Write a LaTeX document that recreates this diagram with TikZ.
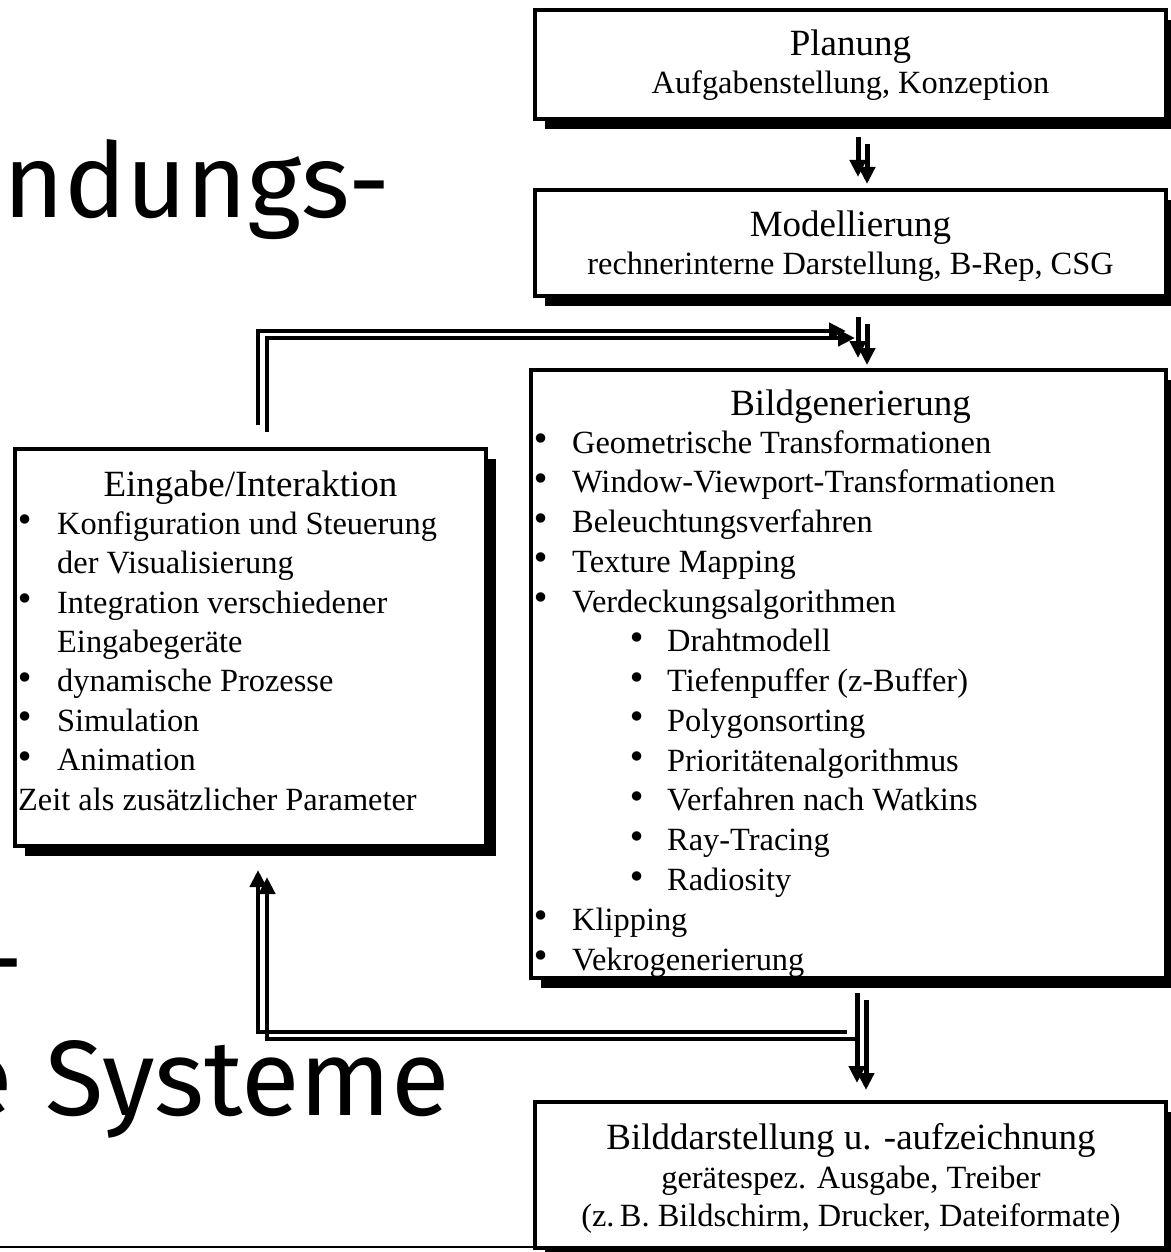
\documentclass[tikz,border=0pt]{standalone}
\usepackage{fontspec}
\setmainfont{Liberation Serif}
\newfontfamily\bigsans{Fira Sans}
\newfontfamily\bulletfont{DejaVu Sans}
\usetikzlibrary{arrows.meta,shadows}

\newcommand\bodysize{\fontsize{32.4}{40}\selectfont}
\newcommand\titlesize{\fontsize{37}{44}\selectfont}
% bullet followed by a fixed indent
\newcommand\itm[1][41pt]{\makebox[#1][l]{\raisebox{2.5pt}{\bulletfont •}}}

\begin{document}
\begin{tikzpicture}[x=1pt,y=-1pt,
  box/.style={draw, line width=4.5pt, fill=white, rectangle, inner sep=0pt, outer sep=0pt,
    drop shadow={shadow xshift=10pt, shadow yshift=-10pt, opacity=1, fill=black}},
  ttl/.style={anchor=base, inner sep=0pt, font=\titlesize},
  sub/.style={anchor=base, inner sep=0pt, font=\bodysize},
  li/.style={anchor=base west, inner sep=0pt, font=\bodysize},
  bigtxt/.style={inner sep=0pt, font=\bigsans\fontsize{#1}{120}\selectfont},
  arr/.style={line width=5pt, -{Triangle[length=17pt,width=16pt]}},
  loop/.style={line width=4.5pt, -{Triangle[length=17pt,width=16pt]}},
  shade/.style={transform canvas={xshift=9pt,yshift=-7pt}}
]
\useasboundingbox (0,0) rectangle (1170,1252);

% slide title fragments behind the diagram
\node[bigtxt=104, anchor=base west] (head1) at (3,218) {ndungs-};
\node[bigtxt=107, anchor=base east] (head2) at (24,996) {-};
\node[bigtxt=107, anchor=base east] (head3) at (450,1115) {e\hspace{33pt}Systeme};

% footer rule
\coordinate (rule) at (0,1247);

% boxes
\node[box, minimum width=631pt, minimum height=109pt] (plan)  at (850.5,64.5) {};
\node[box, minimum width=631pt, minimum height=106pt] (model) at (850.5,243) {};
\node[box, minimum width=635pt, minimum height=608pt] (gen)   at (848.5,674) {};
\node[box, minimum width=471pt, minimum height=397pt] (input) at (250.5,647.5) {};
\node[box, minimum width=631pt, minimum height=146pt] (out)   at (850.5,1175) {};

\draw[line width=2pt] (rule) -- (rule -| out.west);

% Planung
\node[ttl] (planT) at (850.5,56) {Planung};
\node[sub] (planS) at (850.5,94) {Aufgabenstellung, Konzeption};

% Modellierung
\node[ttl] (modelT) at (850.5,236) {Modellierung};
\node[sub] (modelS) at (850.5,274) {rechnerinterne Darstellung, B-Rep, CSG};

% Bildgenerierung
\node[ttl] (genT) at (850.5,415) {Bildgenerierung};
\node[li] (g1)  at (531,453)   {\itm Geometrische Transformationen};
\node[li] (g2)  at (531,492.8) {\itm Window-Viewport-Transformationen};
\node[li] (g3)  at (531,532.5) {\itm Beleuchtungsverfahren};
\node[li] (g4)  at (531,572.3) {\itm Texture Mapping};
\node[li] (g5)  at (531,612.1) {\itm Verdeckungsalgorithmen};
\node[li] (g6)  at (627,651.9) {\itm[40pt]Drahtmodell};
\node[li] (g7)  at (627,691.6) {\itm[40pt]Tiefenpuffer (z-Buffer)};
\node[li] (g8)  at (627,731.4) {\itm[40pt]Polygonsorting};
\node[li] (g9)  at (627,771.2) {\itm[40pt]Prioritätenalgorithmus};
\node[li] (g10) at (627,810.9) {\itm[40pt]Verfahren nach Watkins};
\node[li] (g11) at (627,850.7) {\itm[40pt]Ray-Tracing};
\node[li] (g12) at (627,890.5) {\itm[40pt]Radiosity};
\node[li] (g13) at (531,930.2) {\itm Klipping};
\node[li] (g14) at (531,970)   {\itm Vekrogenerierung};

% Eingabe/Interaktion
\node[ttl] (inT) at (250.5,496) {Eingabe/Interaktion};
\node[li] (i1) at (15,534)   {\itm[42pt]Konfiguration und Steuerung};
\node[li] (i2) at (57,573.5) {der Visualisierung};
\node[li] (i3) at (15,613)   {\itm[42pt]Integration verschiedener};
\node[li] (i4) at (57,652)   {Eingabegeräte};
\node[li] (i5) at (15,691.5) {\itm[42pt]dynamische Prozesse};
\node[li] (i6) at (15,731)   {\itm[42pt]Simulation};
\node[li] (i7) at (15,770.5) {\itm[42pt]Animation};
\node[li] (i8) at (18,810)   {Zeit als zusätzlicher Parameter};

% Bilddarstellung
\node[ttl] (outT) at (851,1149) {Bilddarstellung u. -aufzeichnung};
\node[sub] (outS1) at (851,1188) {gerätespez. Ausgabe, Treiber};
\node[sub] (outS2) at (851,1226) {(z.\,B. Bildschirm, Drucker, Dateiformate)};

% junction on the output arrow where the feedback branch leaves
\coordinate (fb) at (847,1032);

% connectors, each drawn with an offset twin
\foreach \opt in {{}, shade}{
  \begin{scope}[\opt]
    \draw[arr] ([shift={(7.5,18)}]plan.south) -- ([shift={(7.5,-13)}]model.north);
    \draw[arr] ([shift={(7.5,21)}]model.south) -- ([shift={(9.5,-12)}]gen.north);
    \draw[arr] ([shift={(8.5,15)}]gen.south) -- ([shift={(6.5,-19)}]out.north);
    \draw[loop] ([shift={(7.5,-24)}]input.north) |- ([shift={(-2.5,-39)}]gen.north);
    \draw[loop] (fb) -| ([shift={(7.5,24)}]input.south);
  \end{scope}
}
\end{tikzpicture}
\end{document}
